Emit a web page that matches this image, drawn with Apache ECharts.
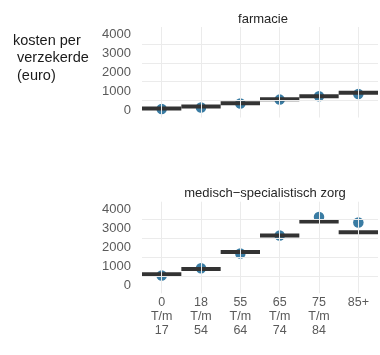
<!DOCTYPE html>
<html>
<head>
<meta charset="utf-8">
<script src="https://cdn.jsdelivr.net/npm/echarts@6/dist/echarts.min.js"></script>
<style>
  html, body { margin: 0; padding: 0; background: #fff; }
  #chart { width: 380px; height: 355px; }
</style>
</head>
<body>
<div id="chart"></div>
<script>
// leeftijdsgroepen
var categories = ['0\nT/m\n17', '18\nT/m\n54', '55\nT/m\n64', '65\nT/m\n74', '75\nT/m\n84', '85+'];

// farmacie: model (zwarte streep) en waargenomen (stip)
var farmacieModel = [75, 180, 355, 565, 730, 915];
var farmacieObs = [55, 130, 340, 550, 730, 845];

// medisch-specialistische zorg
var mszModel = [600, 875, 1765, 2625, 3360, 2795];
var mszObs = [530, 910, 1685, 2625, 3600, 3310];

var gridValues = [500, 1500, 2500, 3500];

var labelFont = 'Liberation Sans, Arial, sans-serif';

/*
 * horizontale streep over de volle breedte van de categorie
 */
function renderStreep(params, api) {
    var p = api.coord([api.value(0), api.value(1)]);
    var w = api.size([1, 0])[0];
    return {
        type: 'line',
        shape: { x1: p[0] - w / 2, y1: p[1], x2: p[0] + w / 2, y2: p[1] },
        style: { stroke: '#333333', lineWidth: 4, lineCap: 'butt' }
    };
}

function gridLines() {
    var d = [];
    gridValues.forEach(function (v) { d.push({ yAxis: v }); });
    categories.forEach(function (c) { d.push({ xAxis: c }); });
    return {
        silent: true,
        symbol: ['none', 'none'],
        label: { show: false },
        lineStyle: { color: '#ebebeb', width: 1, type: 'solid' },
        data: d
    };
}

function yAs(idx) {
    return {
        type: 'value',
        gridIndex: idx,
        min: -400,
        max: 4400,
        interval: 200,
        axisLine: { show: false },
        axisTick: { show: false },
        splitLine: { show: false },
        axisLabel: {
            margin: 11,
            fontSize: 13,
            fontFamily: labelFont,
            color: '#5a5a5a',
            formatter: function (v) {
                return (v >= 0 && v <= 4000 && v % 1000 === 0) ? String(v) : '';
            }
        }
    };
}

function xAs(idx, labels) {
    return {
        type: 'category',
        gridIndex: idx,
        data: categories,
        boundaryGap: true,
        axisLine: { show: false },
        axisTick: { show: false },
        splitLine: { show: false },
        axisLabel: {
            show: labels,
            interval: 0,
            margin: 2,
            fontSize: 12.5,
            lineHeight: 14,
            fontFamily: labelFont,
            color: '#5a5a5a'
        }
    };
}

function puntSerie(idx, data) {
    return {
        type: 'scatter',
        xAxisIndex: idx,
        yAxisIndex: idx,
        data: data,
        symbol: 'circle',
        symbolSize: 10.5,
        itemStyle: { color: '#3a7ca3', opacity: 1 },
        z: 2,
        markLine: gridLines()
    };
}

function streepSerie(idx, data) {
    return {
        type: 'custom',
        xAxisIndex: idx,
        yAxisIndex: idx,
        renderItem: renderStreep,
        data: data.map(function (v, i) { return [i, v]; }),
        z: 3
    };
}

var myChart = echarts.init(document.getElementById('chart'), null, { renderer: 'canvas' });

var option = {
    animation: false,
    backgroundColor: '#ffffff',
    title: [
        {
            text: 'farmacie',
            left: 258, top: 8, textAlign: 'center',
            textStyle: { fontSize: 13, fontWeight: 'normal', color: '#262626', fontFamily: labelFont }
        },
        {
            text: 'medisch\u2212specialistisch zorg',
            left: 260, top: 182, textAlign: 'center',
            textStyle: { fontSize: 13, fontWeight: 'normal', color: '#262626', fontFamily: labelFont }
        },
        {
            text: 'kosten per\n verzekerde\n (euro)',
            left: 8, top: 27,
            textStyle: { fontSize: 14.5, lineHeight: 17.5, fontWeight: 'normal', color: '#1a1a1a', fontFamily: labelFont }
        }
    ],
    grid: [
        { left: 142, right: 2, top: 27, height: 90.5 },
        { left: 142, right: 2, top: 201.7, height: 91.6 }
    ],
    xAxis: [xAs(0, false), xAs(1, true)],
    yAxis: [yAs(0), yAs(1)],
    series: [
        puntSerie(0, farmacieObs),
        streepSerie(0, farmacieModel),
        puntSerie(1, mszObs),
        streepSerie(1, mszModel)
    ]
};

myChart.setOption(option);
</script>
</body>
</html>
